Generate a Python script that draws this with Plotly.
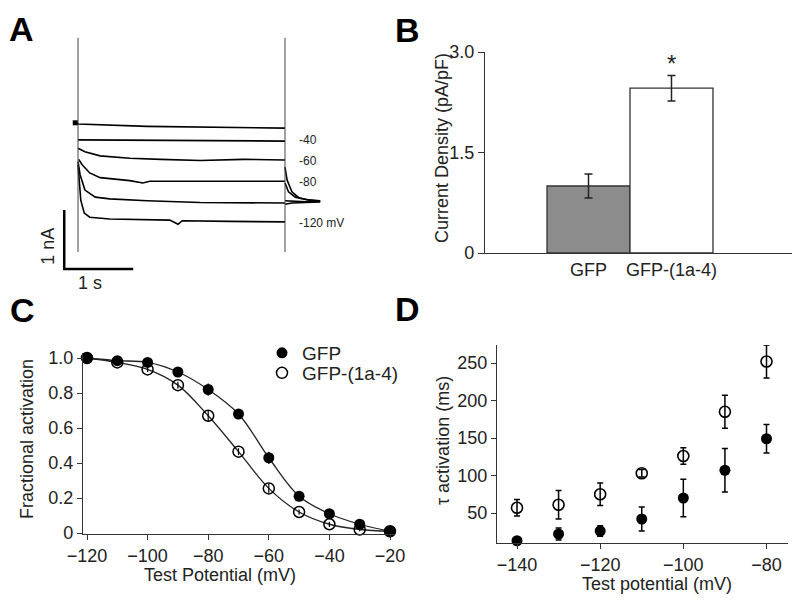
import plotly.graph_objects as go

# the page body keeps its default 8 px margin, so the figure is drawn 8 px smaller
# and every pixel position below is given in page pixels and shifted by OFF
OFF = 8
W, H = 800 - OFF, 602 - OFF
FONT = "Arial, Liberation Sans, sans-serif"

# ---- Panel A: current traces (time in s, current in nA) ----
trace_t = [
    [-0.04, 0.0, 1.0, 2.0, 3.0],
    [0.0, 1.5, 3.0],
    [0.0, 0.10, 0.32, 0.75, 1.2, 1.77, 2.4, 3.0],
    [0.01, 0.06, 0.17, 0.32, 0.75, 0.94, 1.04, 1.77, 3.0],
    [0.0, 0.03, 0.10, 0.25, 0.46, 1.0, 1.77, 3.0],
    [0.0, 0.04, 0.09, 0.17, 0.46, 1.33, 1.45, 1.51, 2.2, 3.0],
]
trace_i = [
    [0.02, 0.0, -0.04, -0.06, -0.07],
    [-0.27, -0.28, -0.29],
    [-0.41, -0.47, -0.54, -0.58, -0.60, -0.62, -0.60, -0.61],
    [-0.60, -0.69, -0.83, -0.91, -0.96, -1.00, -0.97, -0.97, -0.97],
    [-0.64, -0.86, -1.12, -1.24, -1.27, -1.30, -1.33, -1.34],
    [-0.69, -1.29, -1.51, -1.58, -1.61, -1.63, -1.70, -1.64, -1.65, -1.66],
]
tail_t = [
    [3.0, 3.03, 3.1, 3.2, 3.35, 3.51],
    [3.0, 3.05, 3.15, 3.3, 3.51],
    [3.0, 3.1, 3.3, 3.51],
    [3.0, 3.1, 3.3, 3.51],
]
tail_i = [
    [-0.73, -0.95, -1.15, -1.25, -1.29, -1.31],
    [-1.0, -1.15, -1.24, -1.28, -1.30],
    [-1.30, -1.31, -1.32, -1.31],
    [-1.36, -1.34, -1.33, -1.32],
]
cursor_t = [0.0, 3.0]
cursor_i = [1.46, -2.17]
step_labels = ["-40", "-60", "-80", "-120 mV"]
step_label_i = [-0.27, -0.62, -0.98, -1.67]

# ---- Panel B: current density ----
groups = ["GFP", "GFP-(1a-4)"]
density = [1.0, 2.46]
density_err = [0.18, 0.19]

# ---- Panel C: activation curves ----
v_act = [-120, -110, -100, -90, -80, -70, -60, -50, -40, -30, -20]
act_gfp = [1.0, 0.985, 0.975, 0.92, 0.82, 0.68, 0.43, 0.21, 0.11, 0.05, 0.01]
act_gfp_err = [0.01, 0.01, 0.015, 0.015, 0.035, 0.02, 0.035, 0.015, 0.015, 0.01, 0.01]
act_1a4 = [1.0, 0.975, 0.935, 0.845, 0.67, 0.465, 0.255, 0.12, 0.05, 0.02, 0.01]
act_1a4_err = [0.01, 0.01, 0.015, 0.02, 0.03, 0.02, 0.025, 0.015, 0.015, 0.01, 0.01]

# ---- Panel D: activation time constants ----
v_tau = [-140, -130, -120, -110, -100, -90, -80]
tau_gfp = [13, 22, 26, 42, 70, 107, 149]
tau_gfp_err = [4, 8, 7, 16, 25, 29, 19]
tau_1a4 = [57, 61, 75, 103, 126, 185, 252]
tau_1a4_err = [11, 19, 15, 5, 11, 22, 22]


def px(x):
    return (x - OFF) / W


def py(y):
    return 1 - (y - OFF) / H


def dx(x0, x1):
    return [px(x0), px(x1)]


def dy(y0, y1):
    # pixel rows (top, bottom) -> paper domain
    return [py(y1), py(y0)]


def ptext(text, x, y, size=18, angle=0, bold=False):
    # text placed by pixel position in the page
    return dict(text=f"<b>{text}</b>" if bold else text, x=px(x), y=py(y),
                xref="paper", yref="paper", xanchor="center", yanchor="middle",
                textangle=angle, showarrow=False,
                font=dict(family=FONT, size=size, color="black" if bold else "#222"))


fig = go.Figure()

# panel A
for t, i in zip(trace_t + tail_t, trace_i + tail_i):
    fig.add_trace(go.Scatter(x=t, y=i, mode="lines", xaxis="x", yaxis="y",
                             line=dict(color="black", width=1.6), showlegend=False))
for t in cursor_t:
    fig.add_trace(go.Scatter(x=[t, t], y=cursor_i, mode="lines", xaxis="x", yaxis="y",
                             line=dict(color="#444", width=1), showlegend=False))
fig.add_trace(go.Scatter(x=[trace_t[0][0]], y=[trace_i[0][0]], mode="markers",
                         xaxis="x", yaxis="y", marker=dict(symbol="square", size=5, color="black"),
                         showlegend=False))
# scale bar 1 s / 1 nA
fig.add_trace(go.Scatter(x=[-0.2, -0.2, 0.8], y=[-1.46, -2.46, -2.46], mode="lines",
                         xaxis="x", yaxis="y", line=dict(color="black", width=2.5),
                         showlegend=False))

# panel B
fig.add_trace(go.Bar(x=[0, 1], y=density, width=1, xaxis="x2", yaxis="y2",
                     marker=dict(color=["#8c8c8c", "white"], line=dict(color="#333", width=1.3)),
                     error_y=dict(type="data", array=density_err, color="#222", thickness=1.5, width=4),
                     showlegend=False))

# panel C: fitted curves, then the points
for act in (act_1a4, act_gfp):
    fig.add_trace(go.Scatter(x=v_act, y=act, mode="lines", xaxis="x3", yaxis="y3",
                             line=dict(color="#222", width=1.3, shape="spline"),
                             showlegend=False))
fig.add_trace(go.Scatter(x=v_act, y=act_1a4, mode="markers", name="GFP-(1a-4)",
                         xaxis="x3", yaxis="y3", legend="legend2",
                         marker=dict(symbol="circle-open", size=11, color="black", line=dict(width=1.5)),
                         error_y=dict(type="data", array=act_1a4_err, color="black", thickness=1.2, width=0),
                         cliponaxis=False))
fig.add_trace(go.Scatter(x=v_act, y=act_gfp, mode="markers", name="GFP",
                         xaxis="x3", yaxis="y3", legend="legend",
                         marker=dict(symbol="circle", size=11, color="black"),
                         error_y=dict(type="data", array=act_gfp_err, color="black", thickness=1.2, width=0),
                         cliponaxis=False))

# panel D
fig.add_trace(go.Scatter(x=v_tau, y=tau_1a4, mode="markers", xaxis="x4", yaxis="y4",
                         marker=dict(symbol="circle-open", size=11, color="black", line=dict(width=1.6)),
                         error_y=dict(type="data", array=tau_1a4_err, color="black", thickness=1.5, width=3),
                         showlegend=False, cliponaxis=False))
fig.add_trace(go.Scatter(x=v_tau, y=tau_gfp, mode="markers", xaxis="x4", yaxis="y4",
                         marker=dict(symbol="circle", size=11, color="black"),
                         error_y=dict(type="data", array=tau_gfp_err, color="black", thickness=1.5, width=3),
                         showlegend=False, cliponaxis=False))

tick = dict(family=FONT, size=18, color="#222")
axis_common = dict(showline=True, linecolor="#333", linewidth=1.2, ticks="outside",
                   tickcolor="#333", ticklen=5, showgrid=False, zeroline=False,
                   tickfont=tick, automargin=False)

annotations = [
    ptext("A", 21, 29, size=34, bold=True),
    ptext("B", 407, 30, size=34, bold=True),
    ptext("C", 22, 310, size=34, bold=True),
    ptext("D", 407, 309, size=34, bold=True),
]
for lab, i in zip(step_labels, step_label_i):
    annotations.append(dict(text=lab, x=3.17, y=i, xref="x", yref="y", xanchor="left",
                            yanchor="middle", showarrow=False,
                            font=dict(family=FONT, size=12, color="#222")))
annotations += [
    dict(text="1 nA", x=-0.435, y=-2.08, xref="x", yref="y", textangle=-90, showarrow=False,
         xanchor="center", yanchor="middle", font=dict(family=FONT, size=18, color="#222")),
    dict(text="1 s", x=0.17, y=-2.69, xref="x", yref="y", showarrow=False,
         xanchor="center", yanchor="middle", font=dict(family=FONT, size=18, color="#222")),
    dict(text="*", x=1, y=2.83, xref="x2", yref="y2", showarrow=False,
         xanchor="center", yanchor="middle", font=dict(family=FONT, size=24, color="#222")),
    ptext("Current Density (pA/pF)", 442, 148, angle=-90),
    ptext("Fractional activation", 27, 439, angle=-90),
    ptext("Test Potential (mV)", 220, 575),
    ptext("τ activation (ms)", 443, 440, angle=-90),
    ptext("Test potential (mV)", 657, 584),
]

legend_style = dict(xanchor="left", yanchor="top", font=dict(family=FONT, size=19, color="#222"),
                    bgcolor="rgba(0,0,0,0)", itemwidth=30, tracegroupgap=0)

fig.update_layout(
    width=W, height=H,
    margin=dict(l=0, r=0, t=0, b=0, autoexpand=False),
    paper_bgcolor="white", plot_bgcolor="rgba(0,0,0,0)",
    font=dict(family=FONT, color="#222"),
    xaxis=dict(domain=dx(40, 340), range=[-0.551, 3.797], visible=False, automargin=False),
    yaxis=dict(domain=dy(30, 290), range=[-2.814, 1.593], visible=False, automargin=False),
    xaxis2=dict(axis_common, domain=dx(485, 793), range=[-1.247, 2.464], anchor="y2",
                tickvals=[0, 1], ticktext=groups, ticks=""),
    yaxis2=dict(axis_common, domain=dy(52, 253), range=[0, 3.0], anchor="x2",
                tickvals=[0, 1.5, 3.0], ticktext=["0", "1.5", "3.0"], ticklen=6),
    xaxis3=dict(axis_common, domain=dx(83, 395), range=[-121.32, -18.35], anchor="y3",
                tickvals=[-120, -100, -80, -60, -40, -20]),
    yaxis3=dict(axis_common, domain=dy(353, 534), range=[-0.0057, 1.0286], anchor="x3",
                tickvals=[0, 0.2, 0.4, 0.6, 0.8, 1.0],
                ticktext=["0", "0.2", "0.4", "0.6", "0.8", "1.0"]),
    xaxis4=dict(axis_common, domain=dx(497, 788), range=[-144.81, -74.83], anchor="y4",
                tickvals=[-140, -120, -100, -80]),
    yaxis4=dict(axis_common, domain=dy(345, 543), range=[10, 274], anchor="x4",
                tickvals=[50, 100, 150, 200, 250]),
    showlegend=True,
    legend=dict(legend_style, x=px(262), y=py(334)),
    legend2=dict(legend_style, x=px(262), y=py(354)),
    annotations=annotations,
)

fig.write_html("out.html")
